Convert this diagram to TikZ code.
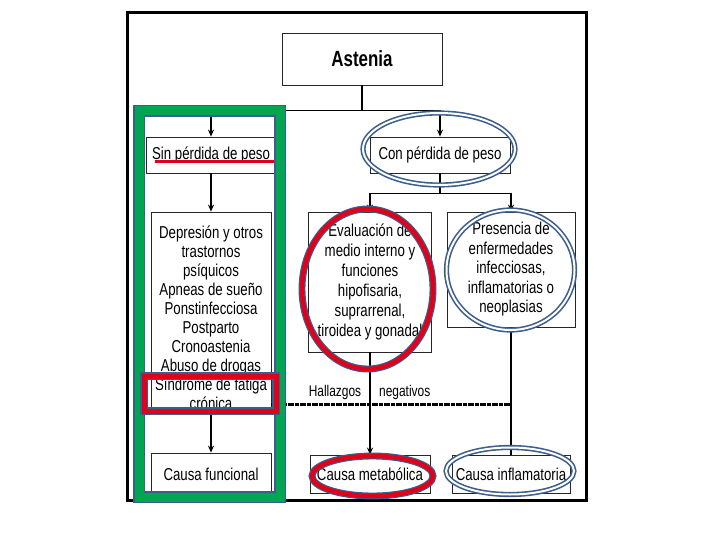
\documentclass[tikz,border=0pt]{standalone}
\usepackage{fontspec}
\setmainfont{Liberation Sans}[FakeStretch=0.77]
\usetikzlibrary{arrows.meta}
\definecolor{framblue}{HTML}{3B5E8C}
\definecolor{markred}{HTML}{E0001A}
\definecolor{markgreen}{HTML}{00A551}
\begin{document}
\begin{tikzpicture}[x=1pt,y=-1pt,
  box/.style={draw=black!85,line width=0.8pt,fill=white,inner sep=0pt,align=center,
    font=\fontsize{17.2}{19}\selectfont},
  arr/.style={-{Stealth[length=7pt,width=6pt]},line width=1.4pt},
  conn/.style={line width=1.4pt},
  dashl/.style={line width=3pt,dash pattern=on 4pt off 1pt on 6pt off 1pt},
  blueoval/.style={draw=framblue,line width=1.6pt,double=white,double distance=2pt},
  redoval/.style={draw=framblue,line width=1.2pt,double=markred,double distance=4.5pt}]
\useasboundingbox (0,0) rectangle (720,540);
% outer frame
\draw[line width=3pt] (127,13) rectangle (586,500);
% boxes
\node[box,minimum width=160pt,minimum height=52pt,font=\fontsize{22}{24}\selectfont\bfseries] (astenia) at (362,59) {Astenia};
\node[box,minimum width=130pt,minimum height=36pt] (sin) at (211,155) {Sin pérdida de peso};
\node[box,minimum width=140pt,minimum height=36pt] (con) at (440,155) {Con pérdida de peso};
\node[box,minimum width=120pt,minimum height=201pt] (dep) at (211,312.5)
  {\rule{0pt}{24pt}Depresión y otros\\trastornos\\psíquicos\\Apneas de sueño\\Ponstinfecciosa\\Postparto\\Cronoastenia\\Abuso de drogas\\Síndrome de fatiga\\crónica};
\node[box,minimum width=120pt,minimum height=42pt] (func) at (211,474) {Causa funcional};
\node[box,minimum width=123pt,minimum height=140pt,font=\fontsize{17.2}{20}\selectfont] (eval) at (370,282)
  {Evaluación de\\medio interno y\\funciones\\hipofisaria,\\suprarrenal,\\tiroidea y gonadal};
\node[box,minimum width=128pt,minimum height=115pt,font=\fontsize{17.2}{19.5}\selectfont] (pres) at (511,269.5)
  {Presencia de\\enfermedades\\infecciosas,\\inflamatorias o\\neoplasias};
\node[box,minimum width=120pt,minimum height=38pt] (meta) at (370,474) {Causa metabólica};
\node[box,minimum width=118pt,minimum height=38pt] (infl) at (511,474) {Causa inflamatoria};
\node[inner sep=0pt,font=\fontsize{15.5}{17}\selectfont] (hall) at (369.5,392) {Hallazgos\hspace{18pt}negativos};
% connectors
\draw[conn] (astenia.south) -- ++(0,25) coordinate (tj);
\draw[arr] (tj) -| (sin.north);
\draw[arr] (tj) -| (con.north);
\draw[arr] (sin.south) -- (dep.north);
\draw[arr] (dep.south) -- (func.north);
\draw[conn] (con.south) -- ++(0,20) coordinate (cj);
\draw[arr] (cj) -| (eval.north);
\draw[arr] (cj) -| (pres.north);
\draw[arr] (eval.south) -- (meta.north);
\draw[conn] (pres.south) -- (infl.north);
\coordinate (dl) at (271,404);
\draw[dashl] (dl) -- (dl -| pres.south);
% annotations
\draw[markred,line width=3pt] (155,162) -- (274,162);
\draw[draw=framblue,line width=1.4pt,double=markgreen,double distance=9pt] (139,111) rectangle (280,497);
\draw[draw=framblue,line width=1.3pt,double=markred,double distance=5pt] (144,376) rectangle (276,411);
\draw[blueoval] (439,149) ellipse [x radius=76pt,y radius=36pt];
\draw[redoval] (367.5,289) ellipse [x radius=65.5pt,y radius=80pt];
\draw[blueoval] (510.5,270) ellipse [x radius=64pt,y radius=60pt];
\draw[redoval] (372.5,476) ellipse [x radius=60.5pt,y radius=20pt];
\draw[blueoval] (510,471) ellipse [x radius=64pt,y radius=23.5pt];
\end{tikzpicture}
\end{document}
